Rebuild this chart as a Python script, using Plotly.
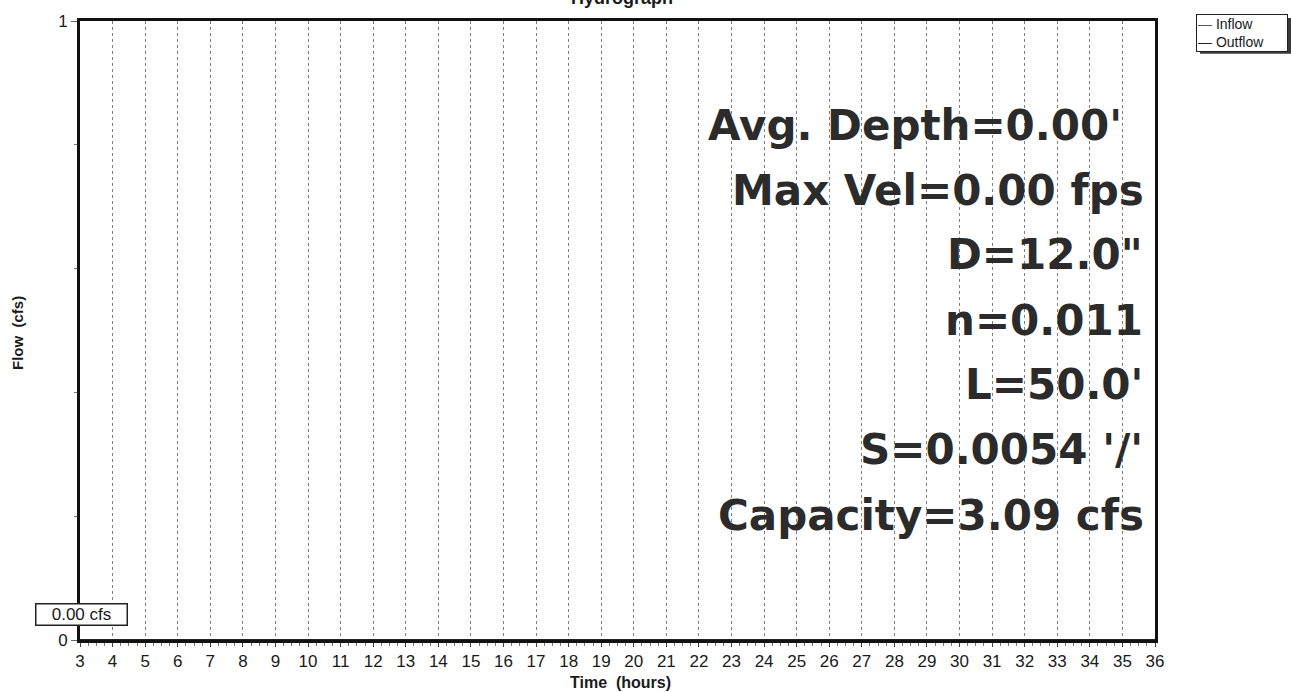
import plotly.graph_objects as go

# ---- data ----
time_hours = [3, 4, 5, 6, 7, 8, 9, 10, 11, 12, 13, 14, 15, 16, 17, 18, 19, 20,
              21, 22, 23, 24, 25, 26, 27, 28, 29, 30, 31, 32, 33, 34, 35, 36]
inflow_cfs = [0.0, 0.0, 0.0, 0.0, 0.0, 0.0, 0.0, 0.0, 0.0, 0.0, 0.0, 0.0,
              0.0, 0.0, 0.0, 0.0, 0.0, 0.0, 0.0, 0.0, 0.0, 0.0, 0.0, 0.0,
              0.0, 0.0, 0.0, 0.0, 0.0, 0.0, 0.0, 0.0, 0.0, 0.0]
outflow_cfs = [0.0, 0.0, 0.0, 0.0, 0.0, 0.0, 0.0, 0.0, 0.0, 0.0, 0.0, 0.0,
               0.0, 0.0, 0.0, 0.0, 0.0, 0.0, 0.0, 0.0, 0.0, 0.0, 0.0, 0.0,
               0.0, 0.0, 0.0, 0.0, 0.0, 0.0, 0.0, 0.0, 0.0, 0.0]
series_names = ["Inflow", "Outflow"]
x_tick_labels = [str(h) for h in time_hours]
y_tick_values = [0, 1]
peak_label = "0.00 cfs"
info_lines = ["Avg. Depth=0.00'", "Max Vel=0.00 fps", 'D=12.0"', "n=0.011",
              "L=50.0'", "S=0.0054 '/'", "Capacity=3.09 cfs"]

W, H = 1291, 692
L, R, T, B = 80, 136, 15, 52
PW, PH = W - L - R, H - T - B


def px(xp):
    return (xp - L) / PW


def py(yp):
    return (H - B - yp) / PH


TXT = "#1a1a1a"
AX_FONT = dict(family="Liberation Sans, Arial, sans-serif", size=17, color=TXT)
SERIES_COLORS = ["#555555", "#222222"]

fig = go.Figure()
for name, vals, col in zip(series_names, [inflow_cfs, outflow_cfs], SERIES_COLORS):
    fig.add_trace(go.Scatter(x=time_hours, y=vals, name=name, mode="lines",
                             line=dict(color=col, width=2), showlegend=False))

fig.update_xaxes(
    range=[3, 36], tickvals=time_hours, ticktext=x_tick_labels,
    showline=True, linecolor="#111", linewidth=3, mirror=True,
    showgrid=True, gridcolor="#808080", gridwidth=1, griddash="3px,3px",
    ticks="outside", ticklen=4, tickcolor="#444", tickwidth=1,
    minor=dict(dtick=0.25, ticks="outside", ticklen=3, tickcolor="#777", showgrid=False),
    tickfont=AX_FONT, zeroline=False,
)
fig.update_yaxes(
    range=[0, 1], tickvals=y_tick_values, ticktext=["0", "1"],
    showline=True, linecolor="#111", linewidth=3, mirror=True,
    showgrid=False, zeroline=False,
    ticks="outside", ticklen=6, tickcolor="#666", tickwidth=1,
    minor=dict(dtick=0.2, ticks="outside", ticklen=3, tickcolor="#777"),
    tickfont=AX_FONT,
)

ann = []
# big info text, right aligned
row_centers = [119, 184, 249, 315, 380, 446, 512]
row_right = [1124, 1146, 1145, 1145, 1145, 1145, 1146]
for txt, yc, xr in zip(info_lines, row_centers, row_right):
    ann.append(dict(xref="paper", yref="paper", x=px(xr), y=py(yc + 2),
                    xanchor="right", yanchor="middle", text=txt, showarrow=False,
                    font=dict(family="DejaVu Sans, sans-serif", size=42, color="#2b2b2b",
                              weight="bold")))
# peak label box
ann.append(dict(xref="paper", yref="paper", x=px(81), y=py(614), xanchor="center",
                yanchor="middle", text=peak_label, showarrow=False,
                font=dict(family="Liberation Sans, Arial, sans-serif", size=17, color=TXT),
                bordercolor="#222", borderwidth=1.5, borderpad=1, bgcolor="white",
                width=88, height=18))
# axis titles
ann.append(dict(xref="paper", yref="paper", x=px(620), y=py(683), xanchor="center",
                yanchor="middle", text="Time  (hours)", showarrow=False,
                font=dict(family="Liberation Sans, Arial, sans-serif", size=16,
                          color=TXT, weight="bold")))
ann.append(dict(xref="paper", yref="paper", x=px(18), y=py(330), xanchor="center",
                yanchor="middle", text="Flow  (cfs)", showarrow=False, textangle=-90,
                font=dict(family="Liberation Sans, Arial, sans-serif", size=15,
                          color=TXT, weight="bold")))
# chart title (cut off at the top edge, as in the reference)
ann.append(dict(xref="paper", yref="paper", x=px(622), y=py(4), xanchor="center",
                yanchor="bottom", text="Hydrograph", showarrow=False,
                font=dict(family="Liberation Sans, Arial, sans-serif", size=18,
                          color=TXT, weight="bold")))

# legend box (manual, compact like the reference)
legend_html = "<br>".join(
    f"<span style='color:{c}'>—</span> {n}" for n, c in zip(series_names, SERIES_COLORS))
ann.append(dict(xref="paper", yref="paper", x=px(1196), y=py(8), xanchor="left",
                yanchor="top", text=legend_html, align="left", showarrow=False,
                font=dict(family="Liberation Sans, Arial, sans-serif", size=14, color=TXT),
                bordercolor="#222", borderwidth=1, borderpad=1, bgcolor="white",
                width=88))

shapes = [
    # legend drop shadow (right and bottom)
    dict(type="rect", xref="paper", yref="paper", x0=px(1200), x1=px(1291),
         y0=py(48), y1=py(12), fillcolor="#3a3a3a", line=dict(width=0), layer="below"),
]

fig.update_layout(
    width=W, height=H,
    margin=dict(l=L, r=R, t=T, b=B, pad=0),
    paper_bgcolor="white", plot_bgcolor="white",
    annotations=ann, shapes=shapes,
    showlegend=False,
)

fig.write_html("out.html")
